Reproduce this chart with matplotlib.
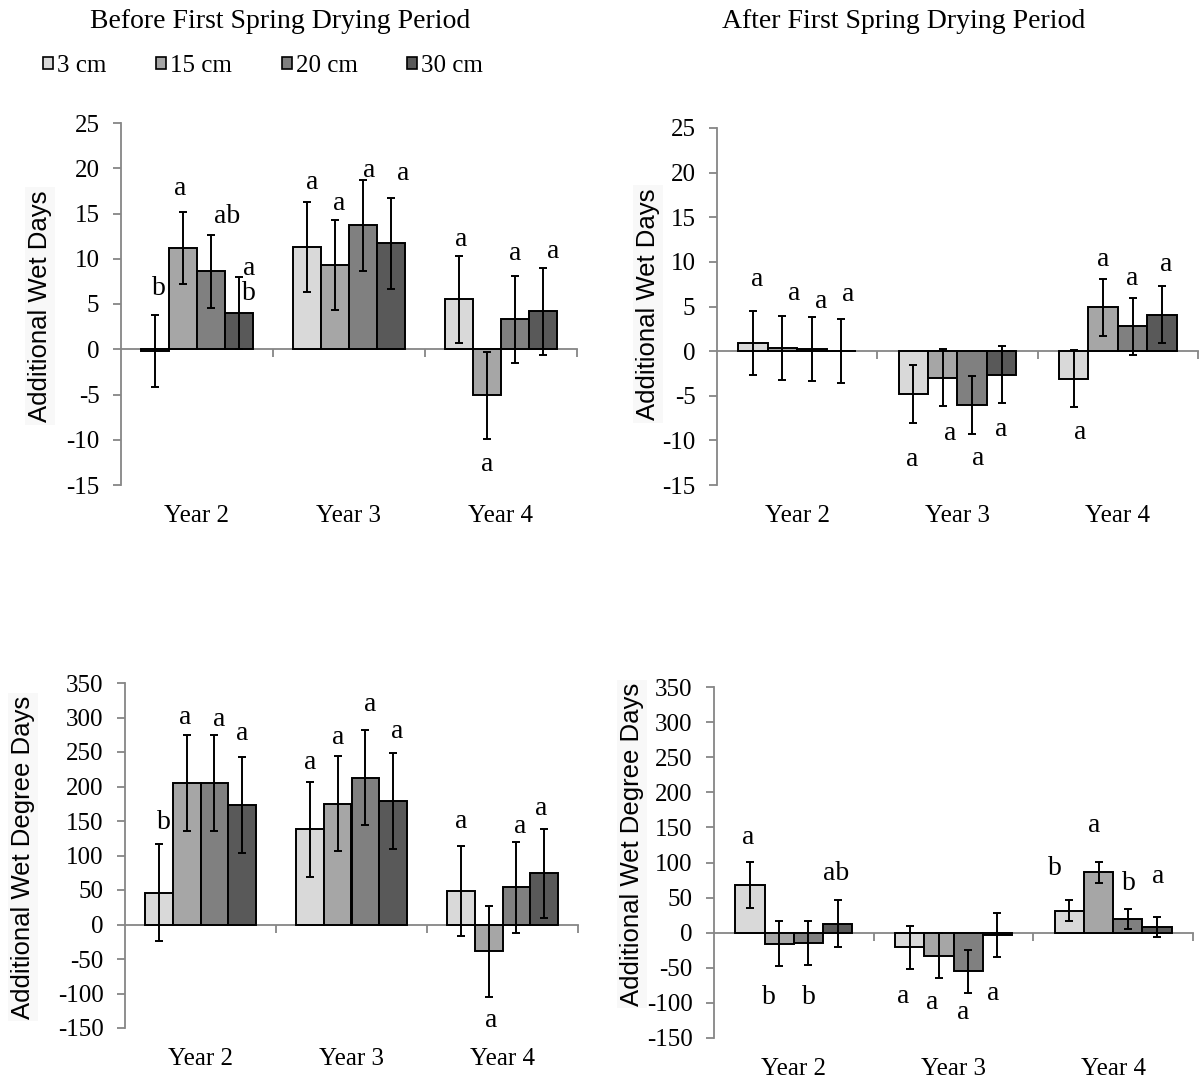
import numpy as np
import matplotlib
matplotlib.use("Agg")
import matplotlib.pyplot as plt
from matplotlib.patches import Patch

plt.rcParams["axes.unicode_minus"] = False

W, H = 1199, 1088
SERIF = "Liberation Serif"
SANS = "Liberation Sans"

years = ["Year 2", "Year 3", "Year 4"]
depths = ["3 cm", "15 cm", "20 cm", "30 cm"]
colors = ["#d9d9d9", "#a6a6a6", "#808080", "#595959"]

# rows = year, cols = depth
before_days = [[-0.2, 11.2, 8.6, 4.0], [11.3, 9.3, 13.7, 11.7], [5.5, -5.1, 3.3, 4.2]]
before_days_se = [[4.0, 4.0, 4.0, 4.0], [5.0, 5.0, 5.0, 5.0], [4.8, 4.8, 4.8, 4.8]]
before_days_let = [["b", "a", "ab", "a\nb"], ["a", "a", "a", "a"], ["a", "a", "a", "a"]]

after_days = [[0.9, 0.35, 0.25, 0.05], [-4.8, -3.0, -6.0, -2.65], [-3.1, 4.9, 2.8, 4.1]]
after_days_se = [[3.6, 3.6, 3.6, 3.6], [3.2, 3.2, 3.25, 3.2], [3.2, 3.2, 3.2, 3.2]]
after_days_let = [["a", "a", "a", "a"], ["a", "a", "a", "a"], ["a", "a", "a", "a"]]

before_dd = [[46, 205, 205, 173], [138, 175, 213, 179], [49, -39, 54, 74]]
before_dd_se = [[70, 70, 70, 70], [69, 69, 69, 69], [65, 66, 66, 65]]
before_dd_let = [["b", "a", "a", "a"], ["a", "a", "a", "a"], ["a", "a", "a", "a"]]

after_dd = [[68, -16, -15, 13], [-21, -33, -55, -3], [31, 86, 19.5, 8.5]]
after_dd_se = [[33, 32, 31, 33], [31, 32, 31, 31], [15, 15, 14, 14]]
after_dd_let = [["a", "b", "b", "ab"], ["a", "a", "a", "a"], ["b", "a", "b", "a"]]

# letter offsets from the error bar end, in pixels (dx, dy up); dy < -10 -> below bar
off_tl = [[(4, 26), (-3, 23), (16, 19), (10, -4)], [(5, 19), (4, 16), (6, 10), (12, 25)],
          [(2, 17), (0, -26), (0, 22), (10, 16)]]
off_tr = [[(4, 31), (12, 22), (9, 15), (7, 24)], [(-1, -37), (7, -27), (6, -25), (0, -26)],
          [(6, -25), (0, 19), (0, 19), (4, 21)]]
off_bl = [[(5, 22), (-1, 17), (5, 15), (0, 23)], [(0, 19), (1, 19), (5, 25), (4, 22)],
          [(0, 24), (3, -24), (4, 15), (-3, 20)]]
off_br = [[(-2, 24), (-10, -31), (0, -33), (-2, 27)], [(-6, -27), (-7, -24), (-5, -19), (-4, -37)],
          [(-14, 32), (-4, 36), (1, 26), (1, 40)]]

fig = plt.figure(figsize=(W / 100, H / 100), dpi=100)
PT = 0.72  # px -> pt


def box(l, t, r, b):
    return [l / W, 1 - b / H, (r - l) / W, (b - t) / H]


def panel(rect, means, ses, letters, offsets, ylim, step, ylabel, lab_xy):
    ax = fig.add_axes(box(*rect))
    means = np.array(means, float)
    ses = np.array(ses, float)
    bw = 0.183
    x = np.arange(len(years))
    for i in range(len(depths)):
        xi = x + (i - 1.5) * bw
        ax.bar(xi, means[:, i], bw, color=colors[i], edgecolor="black", linewidth=1.4, zorder=3)
        ax.errorbar(xi, means[:, i], yerr=ses[:, i], fmt="none", ecolor="black",
                    elinewidth=1.4, capsize=3, capthick=1.4, zorder=4)
        for j in range(len(years)):
            dx, dy = offsets[j][i]
            yv = means[j, i] + ses[j, i] if dy > -10 else means[j, i] - ses[j, i]
            ax.annotate(letters[j][i], (xi[j], yv), xytext=(dx * PT, dy * PT),
                        textcoords="offset points", ha="center", va="center",
                        fontsize=20, family=SERIF, linespacing=1.0, zorder=5)
    ax.set_xlim(-0.5, 2.5)
    ax.set_ylim(*ylim)
    ax.set_yticks(np.arange(ylim[0], ylim[1] + step / 2, step))
    ax.set_xticks([0.5, 1.5, 2.5])
    ax.set_xticklabels([])
    for s in ["top", "right"]:
        ax.spines[s].set_visible(False)
    ax.spines["bottom"].set_position(("data", 0))
    for s in ["bottom", "left"]:
        ax.spines[s].set_color("#868686")
        ax.spines[s].set_linewidth(1.3)
        ax.spines[s].set_zorder(2)
    ax.tick_params(axis="both", colors="#868686", length=5.5, width=1.3, direction="out")
    ax.tick_params(axis="y", labelcolor="black", labelsize=18, pad=10)
    for t in ax.get_yticklabels():
        t.set_family(SERIF)
    for j, yr in enumerate(years):
        ax.annotate(yr, (x[j], 0), xycoords=("data", "axes fraction"), xytext=(0, -31 * PT),
                    textcoords="offset points", ha="center", va="center",
                    fontsize=18, family=SERIF)
    fig.text(lab_xy[0] / W, 1 - lab_xy[1] / H, ylabel, rotation=90, ha="center", va="center",
             fontsize=18.5, family=SANS,
             bbox=dict(facecolor="#f8f8f8", edgecolor="none", pad=2))
    return ax


panel((121, 123, 577, 485), before_days, before_days_se, before_days_let, off_tl,
      (-15, 25), 5, "Additional Wet Days", (40, 306))
panel((717, 128, 1198, 485), after_days, after_days_se, after_days_let, off_tr,
      (-15, 25), 5, "Additional Wet Days", (648, 304))
panel((125, 683, 578, 1028), before_dd, before_dd_se, before_dd_let, off_bl,
      (-150, 350), 50, "Additional Wet Degree Days", (23, 857))
panel((714, 687, 1193, 1038), after_dd, after_dd_se, after_dd_let, off_br,
      (-150, 350), 50, "Additional Wet Degree Days", (632, 844))

fig.text(280 / W, 1 - 21 / H, "Before First Spring Drying Period", ha="center", va="center",
         fontsize=20, family=SERIF)
fig.text(904 / W, 1 - 21 / H, "After First Spring Drying Period", ha="center", va="center",
         fontsize=20, family=SERIF)

handles = [Patch(facecolor=c, edgecolor="black", linewidth=1.2) for c in colors]
fig.legend(handles, depths, loc="center", bbox_to_anchor=(263 / W, 1 - 66 / H), ncol=4,
           frameon=False, prop={"family": SERIF, "size": 18}, handlelength=0.4,
           handleheight=0.4, handletextpad=0.15, columnspacing=2.0, borderpad=0)

fig.savefig("out.png", dpi=100)
